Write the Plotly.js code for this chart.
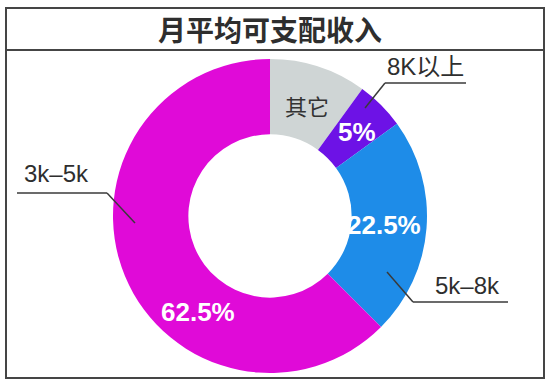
<!DOCTYPE html>
<html>
<head>
<meta charset="utf-8">
<script src="https://cdn.plot.ly/plotly-3.0.1.min.js"></script>
<style>html,body{margin:0;padding:0;background:#fff;}#chart{width:550px;height:385px;}</style>
</head>
<body>
<div id="chart"></div>
<script>
const chartTitle = '月平均可支配收入';
const categories = ['其它', '8K以上', '5k–8k', '3k–5k'];
const values = [10, 5, 22.5, 62.5];
const percentLabels = ['其它', '5%', '22.5%', '62.5%'];
const colors = ['#cfd5d5', '#6d12e6', '#1e8ce8', '#e00ad8'];

const W = 550, H = 385;
const px = x => x / W;
const py = y => 1 - y / H;

const latin = 'Liberation Sans, Arial, Noto Sans CJK SC, sans-serif';
const cjk = 'Noto Sans CJK SC, Liberation Sans, sans-serif';

const trace = {
  type: 'pie',
  labels: categories,
  values: values,
  sort: false,
  direction: 'clockwise',
  rotation: 0,
  hole: 0.52,
  textinfo: 'none',
  marker: {colors: colors, line: {width: 0}},
  domain: {x: [px(113), px(427)], y: [py(373), py(59)]},
  showlegend: false
};

// inside labels (text from arrays)
const inside = [
  {x: 307, y: 105, color: '#333333', size: 22, bold: false, family: cjk},
  {x: 357, y: 132, color: '#ffffff', size: 26, bold: true, family: latin},
  {x: 384, y: 225, color: '#ffffff', size: 26, bold: true, family: latin},
  {x: 198, y: 312, color: '#ffffff', size: 26, bold: true, family: latin}
];
const annotations = [];
inside.forEach((p, i) => {
  annotations.push({
    xref: 'paper', yref: 'paper', x: px(p.x), y: py(p.y),
    text: p.bold ? '<b>' + percentLabels[i] + '</b>' : percentLabels[i],
    showarrow: false, xanchor: 'center', yanchor: 'middle',
    font: {family: p.family, size: p.size, color: p.color}
  });
});
// outside labels
const outside = [
  {i: 1, x: 425, y: 66},
  {i: 2, x: 467, y: 285},
  {i: 3, x: 56, y: 173}
];
outside.forEach(o => {
  annotations.push({
    xref: 'paper', yref: 'paper', x: px(o.x), y: py(o.y),
    text: categories[o.i], showarrow: false, xanchor: 'center', yanchor: 'middle',
    font: {family: latin, size: 24, color: '#2e2e2e'}
  });
});
// title
annotations.push({
  xref: 'paper', yref: 'paper', x: px(270), y: py(29),
  text: '<b>' + chartTitle + '</b>', showarrow: false, xanchor: 'center', yanchor: 'middle',
  font: {family: cjk, size: 28, color: '#2e2e2e'}
});

const lineStyle = {color: '#3a3a3a', width: 1.5};
const seg = (x0, y0, x1, y1, style) => ({
  type: 'line', xref: 'paper', yref: 'paper',
  x0: px(x0), y0: py(y0), x1: px(x1), y1: py(y1), line: style
});
const frame = {color: '#454545', width: 2};
const shapes = [
  {type: 'rect', xref: 'paper', yref: 'paper', x0: px(6), x1: px(544), y0: py(378), y1: py(8), line: frame, fillcolor: 'rgba(0,0,0,0)'},
  seg(6, 50, 544, 50, frame),
  // 8K以上 callout
  seg(365, 108, 385, 83, lineStyle), seg(385, 83, 466, 83, lineStyle),
  // 3k-5k callout
  seg(17, 193, 107, 193, lineStyle), seg(107, 193, 135, 223, lineStyle),
  // 5k-8k callout
  seg(387, 272, 413, 302, lineStyle), seg(413, 302, 508, 302, lineStyle)
];

const layout = {
  width: W, height: H,
  margin: {l: 0, r: 0, t: 0, b: 0},
  paper_bgcolor: '#ffffff',
  plot_bgcolor: '#ffffff',
  annotations: annotations,
  shapes: shapes,
  showlegend: false
};
Plotly.newPlot('chart', [trace], layout, {staticPlot: true, displayModeBar: false});
</script>
</body>
</html>
